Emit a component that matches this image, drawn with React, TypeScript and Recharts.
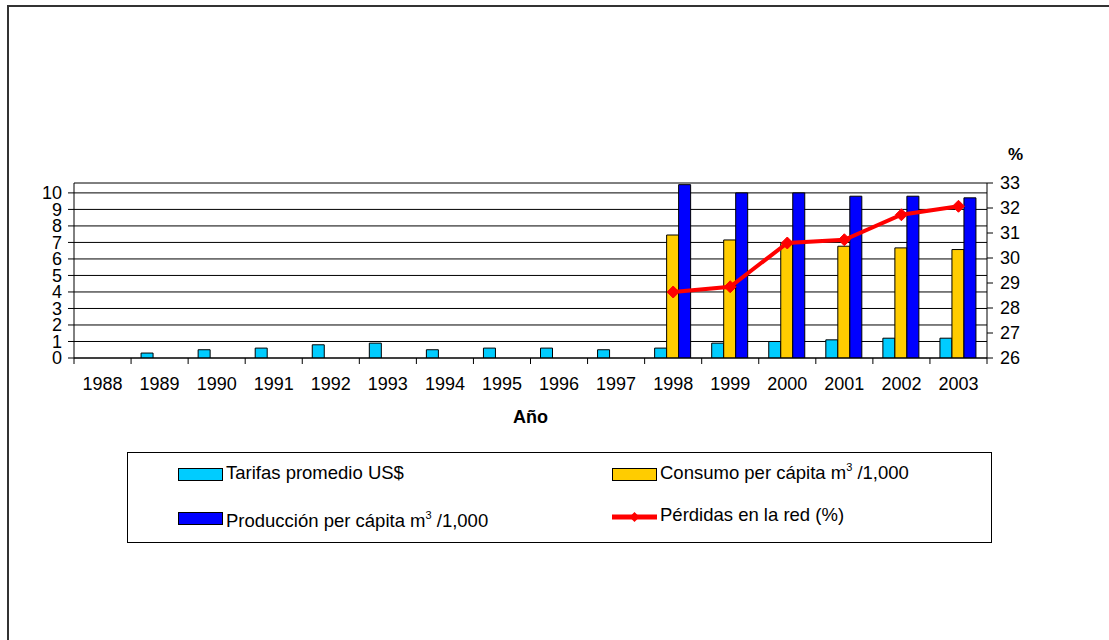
import React from 'react';
import {
  ComposedChart,
  Bar,
  Line,
  XAxis,
  YAxis,
  CartesianGrid,
  ReferenceLine,
} from 'recharts';

const years = ['1988', '1989', '1990', '1991', '1992', '1993', '1994', '1995', '1996', '1997', '1998', '1999', '2000', '2001', '2002', '2003'];
const tarifas = [null, 0.3, 0.5, 0.6, 0.8, 0.9, 0.5, 0.6, 0.6, 0.5, 0.6, 0.9, 1.0, 1.1, 1.2, 1.2];
const consumo = [null, null, null, null, null, null, null, null, null, null, 7.45, 7.15, 6.95, 6.77, 6.67, 6.57];
const produccion = [null, null, null, null, null, null, null, null, null, null, 10.5, 10.0, 10.0, 9.8, 9.8, 9.7];
const perdidas = [null, null, null, null, null, null, null, null, null, null, 28.64, 28.85, 30.6, 30.73, 31.73, 32.07];
const leftTicks = [0, 1, 2, 3, 4, 5, 6, 7, 8, 9, 10];
const rightTicks = [26, 27, 28, 29, 30, 31, 32, 33];

const data = years.map((y, i) => ({
  year: y,
  tarifas: tarifas[i],
  consumo: consumo[i],
  produccion: produccion[i],
  perdidas: perdidas[i],
}));

const W = 1109;
const H = 640;
const Y_W = 60;
const MARGIN = { top: 183, right: 1109 - 987 - Y_W, bottom: 252, left: 74 - Y_W };
const PLOT_W = W - MARGIN.left - MARGIN.right - 2 * Y_W;
const BAND = PLOT_W / years.length;
const FONT = '"Liberation Sans", Arial, sans-serif';

const XTick = (props: any) => {
  const { x, y, payload, index } = props;
  const top = y - 8;
  const half = BAND / 2;
  return (
    <g>
      <line x1={x - half} x2={x - half} y1={top} y2={top + 6} stroke="#000" />
      {index === years.length - 1 && (
        <line x1={x + half} x2={x + half} y1={top} y2={top + 6} stroke="#000" />
      )}
      <text x={x} y={top + 32} textAnchor="middle" fontSize={18} fontFamily={FONT} fill="#000">
        {payload.value}
      </text>
    </g>
  );
};

const Diamond = (props: any) => {
  const { cx, cy, value } = props;
  if (value == null || cx == null || cy == null) return <g key={props.key} />;
  const r = 6;
  return (
    <polygon
      key={props.key}
      points={`${cx},${cy - r} ${cx + r},${cy} ${cx},${cy + r} ${cx - r},${cy}`}
      fill="#FF0000"
      stroke="#FF0000"
    />
  );
};

export default function App() {
  return (
    <div
      style={{
        position: 'absolute',
        left: 0,
        top: 0,
        width: W,
        height: H,
        overflow: 'hidden',
        background: '#fff',
        fontFamily: FONT,
      }}
    >
      <div
        style={{
          position: 'absolute',
          left: 7,
          top: 5,
          width: 1300,
          height: 900,
          border: '2px solid #333',
        }}
      />
      <div style={{ position: 'absolute', left: 0, top: 0 }}>
        <ComposedChart
          width={W}
          height={H}
          data={data}
          margin={MARGIN}
          barGap={0}
          barCategoryGap={10}
        >
          <CartesianGrid yAxisId="left" vertical={false} stroke="#000" horizontalPoints={undefined} />
          <XAxis
            dataKey="year"
            height={30}
            axisLine={{ stroke: '#000' }}
            tickLine={false}
            tick={<XTick />}
            interval={0}
          />
          <YAxis
            yAxisId="left"
            width={Y_W}
            domain={[0, 10.6]}
            ticks={leftTicks}
            interval={0}
            allowDataOverflow
            axisLine={{ stroke: '#000' }}
            tickLine={{ stroke: '#000' }}
            tickSize={6}
            tickMargin={6}
            tick={{ fontSize: 18, fill: '#000', fontFamily: FONT }}
          />
          <YAxis
            yAxisId="right"
            orientation="right"
            width={Y_W}
            domain={[26, 33]}
            ticks={rightTicks}
            interval={0}
            allowDataOverflow
            axisLine={{ stroke: '#000' }}
            tickLine={{ stroke: '#000' }}
            tickSize={6}
            tickMargin={7}
            tick={{ fontSize: 18, fill: '#000', fontFamily: FONT, textAnchor: 'start' }}
          />
          <ReferenceLine yAxisId="left" y={10.6} stroke="#808080" />
          <Bar yAxisId="left" dataKey="tarifas" fill="#00CCFF" stroke="#000" strokeWidth={1} isAnimationActive={false} />
          <Bar yAxisId="left" dataKey="consumo" fill="#FFCC00" stroke="#000" strokeWidth={1} isAnimationActive={false} />
          <Bar yAxisId="left" dataKey="produccion" fill="#0000FF" stroke="#000" strokeWidth={1} isAnimationActive={false} />
          <Line
            yAxisId="right"
            dataKey="perdidas"
            type="linear"
            stroke="#FF0000"
            strokeWidth={4}
            dot={Diamond}
            activeDot={false}
            isAnimationActive={false}
          />
        </ComposedChart>
      </div>
      <svg
        width={W}
        height={H}
        style={{ position: 'absolute', left: 0, top: 0, pointerEvents: 'none' }}
        fontFamily={FONT}
      >
        <text x={1015.5} y={160} textAnchor="middle" fontSize={17} fontWeight="bold" fill="#000">%</text>
        <text x={530.5} y={423} textAnchor="middle" fontSize={18} fontWeight="bold" fill="#000">Año</text>
        <rect x={127.5} y={452.5} width={864} height={90} fill="none" stroke="#000" />
        <rect x={178.5} y={468.5} width={44} height={12} fill="#00CCFF" stroke="#000" />
        <text x={226} y={479} fontSize={18.5} fill="#000">Tarifas promedio US$</text>
        <rect x={612.5} y={468.5} width={44} height={12} fill="#FFCC00" stroke="#000" />
        <text x={660} y={479} fontSize={18.5} fill="#000">
          Consumo per cápita m
          <tspan fontSize={11} dy={-8}>3</tspan>
          <tspan dy={8}> /1,000</tspan>
        </text>
        <rect x={178.5} y={512.5} width={44} height={12} fill="#0000FF" stroke="#000" />
        <text x={226} y={527} fontSize={18.5} fill="#000">
          Producción per cápita m
          <tspan fontSize={11} dy={-8}>3</tspan>
          <tspan dy={8}> /1,000</tspan>
        </text>
        <line x1={612} x2={657} y1={517} y2={517} stroke="#FF0000" strokeWidth={5} />
        <polygon points="634.5,512 639.5,517 634.5,522 629.5,517" fill="#FF0000" />
        <text x={660} y={521} fontSize={18.5} fill="#000">Pérdidas en la red (%)</text>
      </svg>
    </div>
  );
}
